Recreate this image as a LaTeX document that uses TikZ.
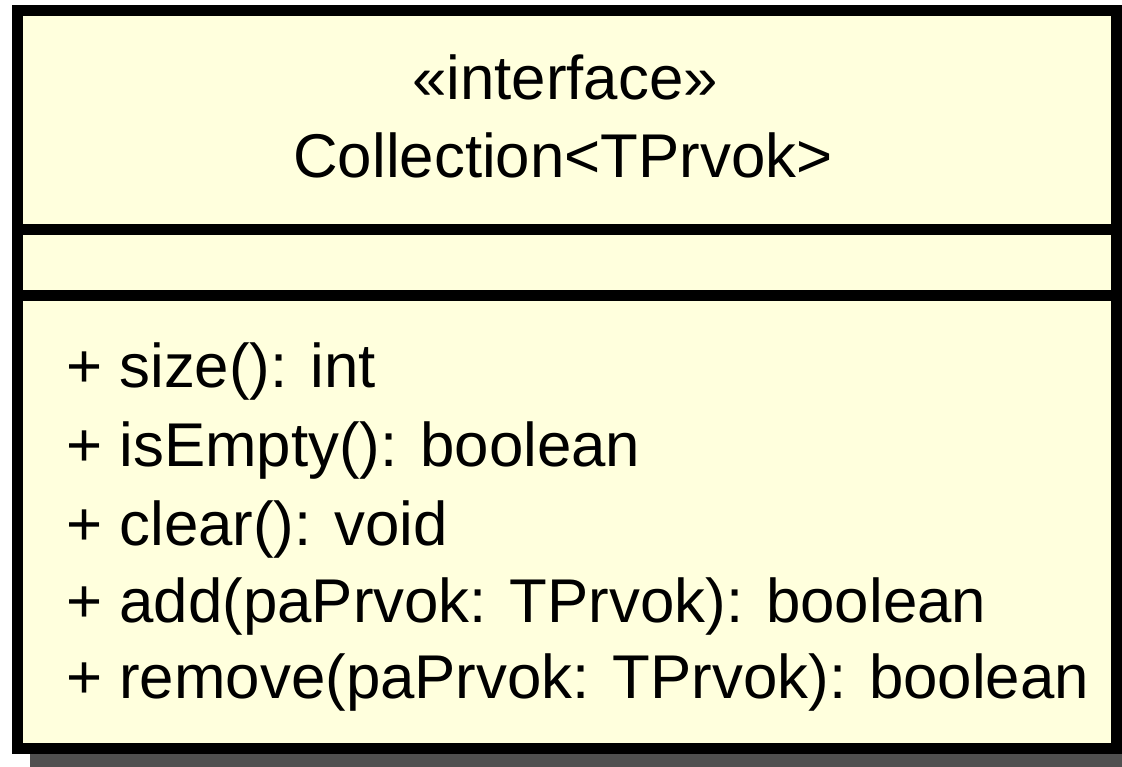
\documentclass[tikz,border=0pt]{standalone}
\usepackage{fontspec}
\setmainfont{Liberation Sans}
\definecolor{classfill}{RGB}{255,255,221}
\definecolor{shadowgray}{RGB}{80,80,80}
\begin{document}
\begin{tikzpicture}[x=1pt,y=-1pt,
  umltext/.style={inner sep=0pt, font=\fontsize{61.8}{70}\selectfont},
  classbox/.style={draw=black, line width=11pt, fill=classfill, inner sep=0pt,
    minimum width=1099pt, minimum height=737.5pt},
  divider/.style={draw=black, line width=11pt}]
\useasboundingbox (0,0) rectangle (1122,767);
% drop shadow under the class box
\fill[shadowgray] (30,40) rectangle (1140,767);
% class box
\node[classbox] (box) at (567,379.25) {};
% compartment dividers
\coordinate (d1) at (17.5,229.5);
\coordinate (d2) at (17.5,295.5);
\draw[divider] (box.west |- d1) -- (box.east |- d1);
\draw[divider] (box.west |- d2) -- (box.east |- d2);
% name compartment
\node[umltext, anchor=base] (stereo) at (565,100) {«interface»};
\node[umltext, anchor=base] (cname) at (563,178) {Collection<TPrvok>};
% operations
\node[umltext, anchor=base west] (m1) at (66,388) {+ size(): int};
\node[umltext, anchor=base west] (m2) at (66,466) {+ isEmpty(): boolean};
\node[umltext, anchor=base west] (m3) at (66,545) {+ clear(): void};
\node[umltext, anchor=base west] (m4) at (66,622) {+ add(paPrvok: TPrvok): boolean};
\node[umltext, anchor=base west] (m5) at (66,698) {+ remove(paPrvok: TPrvok): boolean};
\end{tikzpicture}
\end{document}
